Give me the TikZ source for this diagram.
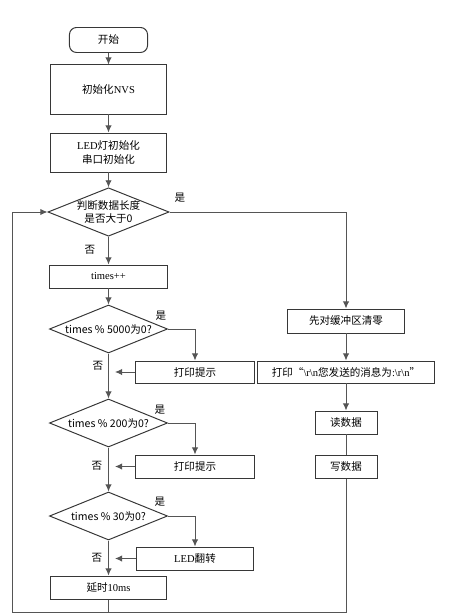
\documentclass[tikz,border=0pt]{standalone}
\usepackage{fontspec}
\setmainfont{Liberation Serif}
\newfontfamily\cjk{Noto Sans CJK SC}
\usetikzlibrary{shapes.geometric,arrows.meta}

\definecolor{linegray}{RGB}{85,85,85}
\definecolor{boxgray}{RGB}{55,55,55}

\tikzset{
  procbox/.style={draw=boxgray, line width=0.7pt, inner sep=1pt, align=center,
    font=\fontsize{7.5}{10}\selectfont},
  startbox/.style={procbox, rounded corners=5pt},
  decide/.style={diamond, draw=boxgray, line width=0.7pt, aspect=2.5, inner sep=0pt,
    minimum width=2.95cm, minimum height=1.2cm, align=center,
    font=\fontsize{7.5}{9.5}\selectfont\cjk},
  yesno/.style={font=\fontsize{7.5}{9}\selectfont\cjk, inner sep=0pt},
  flow/.style={draw=linegray, line width=0.7pt, -{Latex[length=5pt,width=4.5pt]}},
  plain/.style={draw=linegray, line width=0.7pt}
}

\begin{document}
\begin{tikzpicture}[x=0.025cm, y=-0.025cm]
    \useasboundingbox (0,0) rectangle (471,616);

    % main column
    \node[startbox, minimum width=1.95cm, minimum height=0.625cm] (kaishi) at (108.5,40) {\cjk 开始};
    \node[procbox, minimum width=2.875cm, minimum height=1.225cm] (nvs) at (108.5,89.5) {{\cjk 初始化}NVS};
    \node[procbox, minimum width=2.875cm, minimum height=0.975cm] (ledinit) at (108.5,152.5) {LED{\cjk 灯初始化}\\{\cjk 串口初始化}};
    \node[decide] (pdlen) at (108.5,212) {判断数据长度\\是否大于0};
    \node[procbox, minimum width=2.925cm, minimum height=0.575cm] (times) at (108.5,276.5) {times++};
    \node[decide] (pd5000) at (108.5,329) {times \% 5000为0?};
    \node[decide] (pd200) at (108.5,423) {times \% 200为0?};
    \node[decide] (pd30) at (108.5,516) {times \% 30为0?};
    \node[procbox, minimum width=2.9cm, minimum height=0.575cm] (yanshi) at (108.5,587.5) {{\cjk 延时}10ms};

    % side boxes
    \node[procbox, minimum width=2.95cm, minimum height=0.55cm] (tishi1) at (195,372) {\cjk 打印提示};
    \node[procbox, minimum width=2.95cm, minimum height=0.575cm] (tishi2) at (195,466.5) {\cjk 打印提示};
    \node[procbox, minimum width=2.925cm, minimum height=0.575cm] (ledfz) at (195,558.5) {LED{\cjk 翻转}};

    % right column
    \node[procbox, minimum width=2.925cm, minimum height=0.6cm] (qingling) at (346,321) {\cjk 先对缓冲区清零};
    \node[procbox, minimum width=4.4cm, minimum height=0.55cm] (dayin) at (346,372)
      {{\cjk 打印“}\textbackslash r\textbackslash n{\cjk 您发送的消息为}:\textbackslash r\textbackslash n{\cjk ”}};
    \node[procbox, minimum width=1.55cm, minimum height=0.575cm] (du) at (346,422.5) {\cjk 读数据};
    \node[procbox, minimum width=1.55cm, minimum height=0.575cm] (xie) at (346,466.5) {\cjk 写数据};

    % labels
    \node[yesno] (y0) at (180,198) {是};
    \node[yesno] (n0) at (90,250) {否};
    \node[yesno] (y1) at (161,316) {是};
    \node[yesno] (n1) at (98,366) {否};
    \node[yesno] (y2) at (160,410) {是};
    \node[yesno] (n2) at (97,466) {否};
    \node[yesno] (y3) at (160,502) {是};
    \node[yesno] (n3) at (97,558) {否};

    % return points
    \coordinate (ret1) at (115,372);
    \coordinate (ret2) at (115,466.5);
    \coordinate (ret3) at (115,558.5);
    \coordinate (loopbl) at (12,612);
    \coordinate (loopbr) at (346,612);

    % connectors
    \draw[flow] (kaishi) -- (nvs);
    \draw[flow] (nvs) -- (ledinit);
    \draw[flow] (ledinit) -- (pdlen);
    \draw[flow] (pdlen) -- (times);
    \draw[flow] (times) -- (pd5000);
    \draw[flow] (pd5000.east) -| (tishi1.north);
    \draw[flow] (tishi1.west) -- (ret1);
    \draw[flow] (pd5000) -- (pd200);
    \draw[flow] (pd200.east) -| (tishi2.north);
    \draw[flow] (tishi2.west) -- (ret2);
    \draw[flow] (pd200) -- (pd30);
    \draw[flow] (pd30.east) -| (ledfz.north);
    \draw[flow] (ledfz.west) -- (ret3);
    \draw[flow] (pd30) -- (yanshi);
    \draw[plain] (yanshi) -- (yanshi |- loopbl);

    \draw[flow] (pdlen.east) -| (qingling.north);
    \draw[flow] (qingling) -- (dayin);
    \draw[flow] (dayin) -- (du);
    \draw[plain] (du) -- (xie);
    \draw[flow] (xie) -- (loopbr) -- (loopbl) |- (pdlen.west);
\end{tikzpicture}
\end{document}
